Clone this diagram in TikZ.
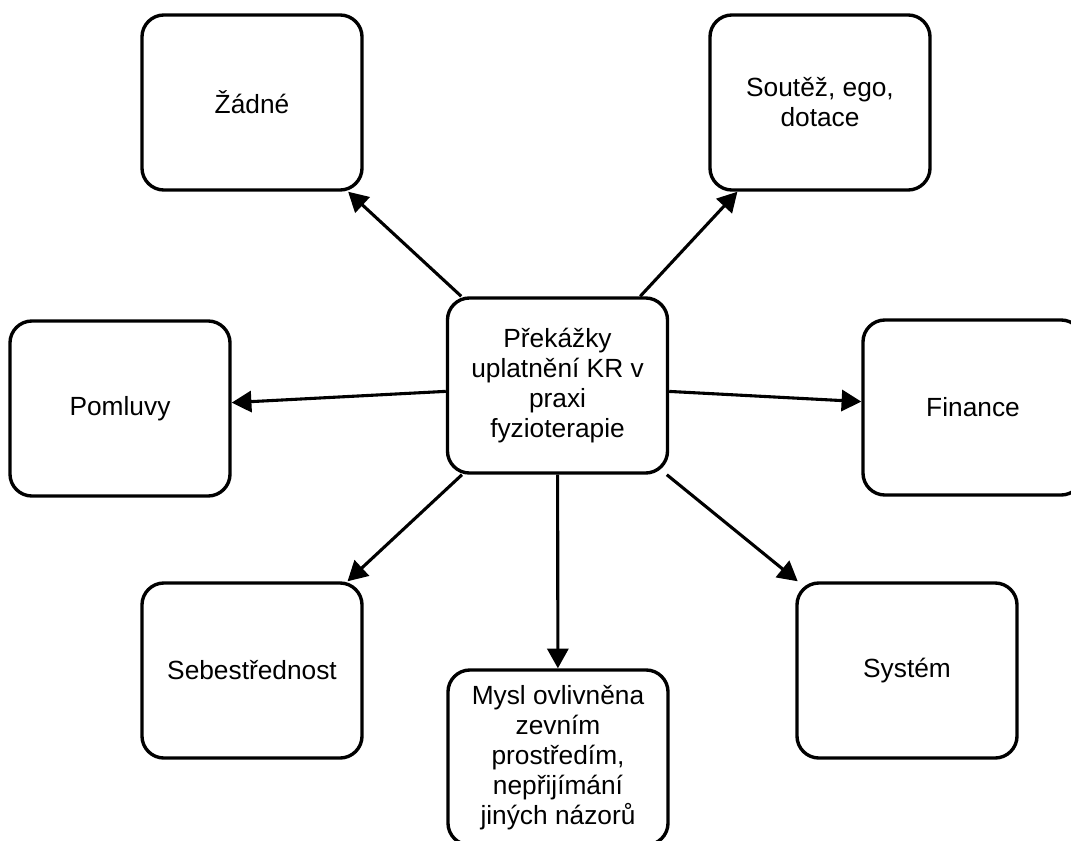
\documentclass[tikz,border=0pt]{standalone}
\usepackage{fontspec}
\setmainfont{Liberation Sans}
\usetikzlibrary{arrows.meta}
\tikzset{
  krbox/.style={draw, line width=2.4pt, rounded corners=0.55cm, minimum width=5.5cm,
    minimum height=4.375cm, align=center, font=\fontsize{18.7}{21.3}\selectfont},
}
\begin{document}
\begin{tikzpicture}[x=0.025cm, y=-0.025cm, line join=round, >={Triangle[length=14pt,width=15pt]}]
	\clip (0,0) rectangle (1071,841);
	\node[krbox] (kr) at (557.5,385.5) {Překážky\\uplatnění KR v\\praxi\\fyzioterapie};
	\node[krbox] (zadne) at (252,102.5) {Žádné};
	\node[krbox] (soutez) at (820,102.5) {Soutěž, ego,\\dotace};
	\node[krbox] (pomluvy) at (120,408.5) {Pomluvy};
	\node[krbox] (finance) at (973,407.5) {Finance};
	\node[krbox] (sebe) at (252,670.5) {Sebestřednost};
	\node[krbox] (system) at (907,670.5) {Systém};
	\node[krbox] (mysl) at (558,757.5) {Mysl ovlivněna\\zevním\\prostředím,\\nepřijímání\\jiných názorů};
	\foreach \t in {zadne,soutez,pomluvy,finance,sebe,system,mysl}
	\draw[->, line width=2.2pt] (kr)--(\t);
\end{tikzpicture}
\end{document}
